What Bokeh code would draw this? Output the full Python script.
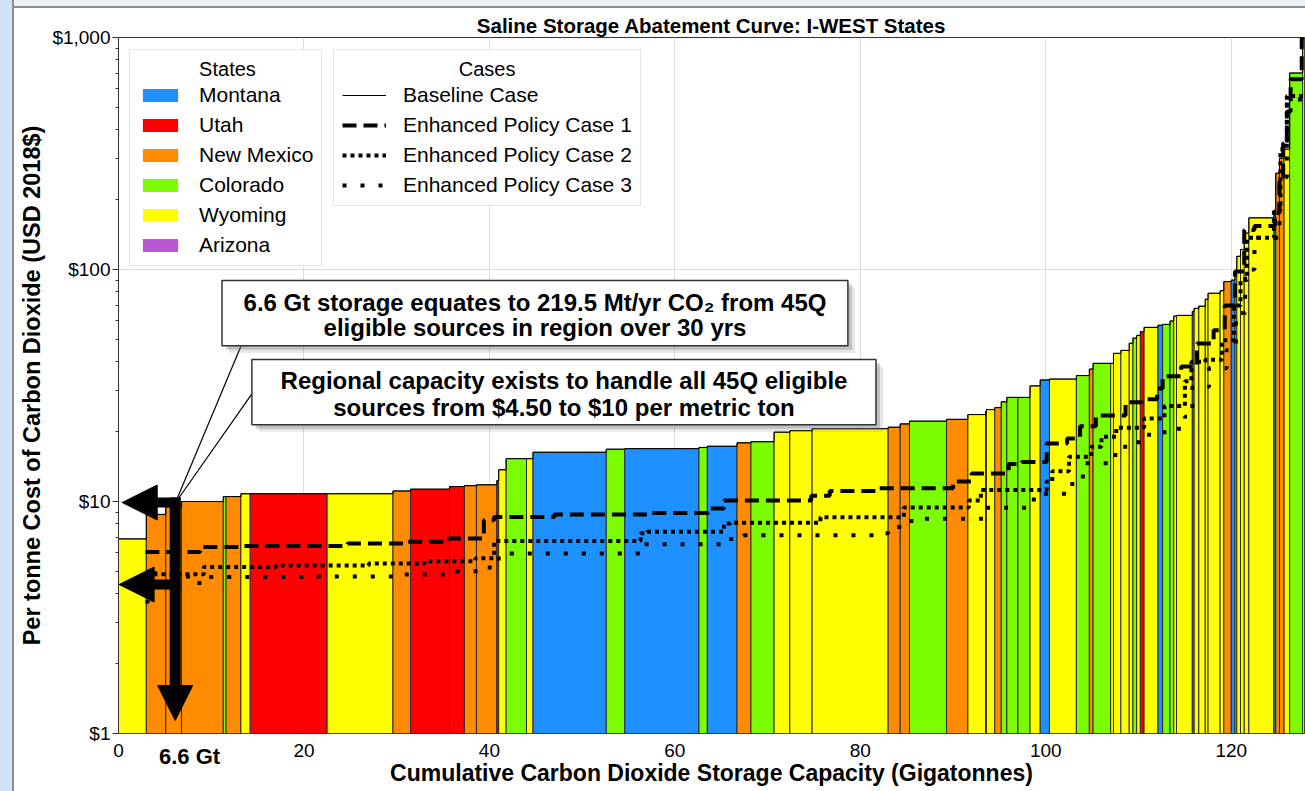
import numpy as np
from bokeh.plotting import figure
from bokeh.models import (Range1d, FixedTicker, NumeralTickFormatter, Legend, LegendItem,
                          Arrow, NormalHead, BoxAnnotation, Label, ColumnDataSource, LinearAxis)
from bokeh.embed import file_html
from bokeh.resources import INLINE

FONT = "Liberation Sans"

# ---------------- data ----------------
STATES = ["Montana", "Utah", "New Mexico", "Colorado", "Wyoming", "Arizona"]
STATE_CODES = ["MT", "UT", "NM", "CO", "WY", "AZ"]
STATE_COLORS = ["#1E90FF", "#FF0000", "#FF8C00", "#7CFC00", "#FFFF00", "#BA55D3"]

# storage capacity of each saline formation (Gt), in cost order
CAPACITY_GT = [3.0, 2.1, 1.7, 4.5, 0.3, 1.6, 1.0, 8.3, 7.1, 1.9, 4.2, 1.6, 1.3, 2.2, 0.2,
               0.8, 2.2, 0.7, 7.9, 2.0, 8.0, 0.9, 3.2, 1.5, 2.5, 1.7, 2.4, 8.2, 1.3, 1.0,
               4.0, 2.3, 1.9, 0.1, 0.9, 0.7, 0.6, 1.2, 1.3, 1.1, 1.0, 2.9, 1.4, 0.4, 1.9,
               0.3, 0.8, 0.9, 0.4, 0.4, 0.4, 0.4, 1.5, 0.5, 0.8, 0.4, 0.3, 1.7, 0.2, 0.5,
               0.7, 0.3, 1.3, 0.4, 0.8, 0.4, 0.2, 0.4, 0.4, 0.5, 2.7, 0.2, 0.4, 0.5, 0.6,
               1.4, 0.2]
# baseline storage cost ($/t CO2, USD 2018)
COST_USD = [6.9, 8.8, 9.5, 10.0, 10.5, 10.5, 10.8, 10.8, 10.8, 11.1, 11.3, 11.6, 11.7, 11.8, 12.3,
            13.7, 15.3, 15.3, 16.3, 16.8, 16.9, 17.1, 17.3, 17.9, 18.1, 19.9, 20.2, 20.6, 20.9, 21.6,
            22.2, 22.6, 23.7, 24.4, 24.9, 25.4, 26.9, 28.1, 28.1, 31.5, 33.4, 33.7, 34.9, 37.2, 39.4,
            39.4, 43.5, 44.8, 48.1, 50.6, 52.0, 54.0, 56.3, 57.5, 58.0, 60.0, 63.0, 63.4, 66.0, 68.0,
            69.5, 74.5, 79.0, 81.0, 88.7, 90.0, 98.0, 114.0, 122.0, 143.5, 167.0, 180.0, 260.0, 302.0, 330.0,
            703.0, 1000.0]
BAR_STATE = ["WY", "NM", "NM", "NM", "CO", "NM", "WY", "UT", "WY", "NM", "UT", "UT", "NM", "NM", "UT",
             "WY", "CO", "WY", "MT", "CO", "MT", "CO", "MT", "NM", "CO", "WY", "WY", "WY", "NM", "NM",
             "CO", "NM", "WY", "MT", "WY", "NM", "CO", "CO", "CO", "WY", "MT", "WY", "CO", "NM", "CO",
             "WY", "WY", "WY", "WY", "CO", "WY", "UT", "WY", "MT", "CO", "CO", "WY", "WY", "MT", "WY",
             "WY", "WY", "WY", "WY", "NM", "MT", "CO", "WY", "WY", "WY", "WY", "MT", "NM", "NM", "WY",
             "CO", "WY"]

CASE1_X = [2.9, 8.8, 13.5, 24.7, 31.1, 35.4, 39.4, 40.5, 47.0, 57.0, 63.6, 65.3, 74.7, 76.7, 82.0,
           90.0, 92.0, 96.0, 97.4, 100.1, 102.3, 103.7, 105.4, 108.6, 110.4, 112.0, 112.6, 114.6,
           116.3, 118.1, 119.3, 120.4, 121.4, 122.5, 124.7, 125.2, 125.6, 126.0, 126.4, 127.6, 127.9]
CASE1_Y = [6.06, 6.37, 6.43, 6.59, 6.70, 6.92, 8.3, 8.58, 8.79, 8.93, 9.33, 10.1, 10.6, 11.1, 11.4,
           12.2, 13.2, 14.5, 14.8, 17.8, 18.7, 21.1, 23.5, 26.8, 27.6, 30.7, 34.7, 38.2,
           48.0, 54.7, 70.0, 98.0, 148.0, 154.0, 175.0, 250.0, 350.0, 480.0, 660.0, 1000.0, 1000.0]

CASE2_X = [2.9, 9.2, 17.0, 27.0, 33.0, 38.5, 40.5, 56.3, 57.0, 65.3, 66.0, 75.7, 84.7, 91.7, 93.0,
           100.1, 100.7, 102.5, 104.9, 106.0, 107.6, 110.6, 112.8, 115.0, 115.7, 117.2, 119.0, 120.3,
           121.0, 121.7, 124.6, 125.3, 126.0, 127.9]
CASE2_Y = [4.86, 5.22, 5.3, 5.4, 5.53, 5.7, 6.75, 7.3, 7.4, 8.03, 8.09, 8.55, 9.42, 10.1, 11.2,
           12.2, 13.5, 15.6, 17.2, 19.0, 20.8, 22.8, 25.8, 33.0, 40.0, 40.8, 49.6, 70.0,
           90.0, 137.0, 180.0, 330.0, 560.0, 560.0]

CASE3_X = [2.9, 3.2, 7.5, 9.2, 20.0, 30.0, 36.0, 39.4, 41.0, 56.5, 65.8, 67.4, 81.8, 83.0, 85.5,
           93.5, 98.3, 99.7, 102.3, 104.0, 107.5, 110.0, 112.8, 115.0, 115.8, 117.6, 119.5, 120.5,
           121.5, 122.5, 125.2, 126.0, 127.9]
CASE3_Y = [3.7, 4.9, 4.45, 4.73, 4.75, 4.85, 5.0, 5.2, 5.97, 6.54, 6.9, 7.16, 7.3, 7.77, 8.43,
           9.4, 10.2, 10.8, 11.9, 14.6, 17.2, 19.4, 20.6, 23.2, 31.2, 37.5, 45.0, 65.0,
           100.0, 137.0, 250.0, 540.0, 540.0]

X_TICKS = [0, 20, 40, 60, 80, 100, 120]
Y_TICKS = [1, 10, 100, 1000]
MARK_GT = 7.66          # position of the "6.6 Gt" label on the axis
MARK_LABEL = "6.6 Gt"

# ---------------- geometry helpers (for annotations only) ----------------
X_MAX = 127.9
FRAME_L, FRAME_R, FRAME_T, FRAME_B = 118, 1304, 37, 733
def px_x(px):
    return (px - FRAME_L) * X_MAX / (FRAME_R - FRAME_L)
def px_y(py):
    return 10 ** ((FRAME_B - py) / ((FRAME_B - FRAME_T) / 3.0))

# ---------------- figure ----------------
p = figure(width=1305, height=791, x_range=Range1d(0, X_MAX), y_range=Range1d(1, 1000),
           y_axis_type="log", output_backend="svg", toolbar_location=None,
           min_border_left=FRAME_L, min_border_right=1305 - FRAME_R, min_border_top=FRAME_T,
           min_border_bottom=791 - FRAME_B)
p.background_fill_color = "white"
p.border_fill_color = "white"
p.border_fill_alpha = 0
p.styles = {"background": ("linear-gradient(to right, #d2e2f6 0px, #d2e2f6 12px, #8c8c8c 12px, "
                           "#8c8c8c 14px, rgba(0,0,0,0) 14px), "
                           "linear-gradient(to bottom, #eef3fa 0px, #eef3fa 6px, #8c8c8c 6px, "
                           "#8c8c8c 8px, #ffffff 8px)")}
p.outline_line_color = "#333333"
p.outline_line_width = 1

p.title.text = "Saline Storage Abatement Curve: I-WEST States"
p.title.align = "center"
p.title.text_font = FONT
p.title.text_font_size = "20.5px"
p.title.text_font_style = "bold"
p.title.text_color = "black"
p.title.standoff = 2

main_x = p.below[0]
main_y = p.left[0]

xt = FixedTicker(ticks=X_TICKS)
minor_y = [m * d for d in (1, 10, 100) for m in range(2, 10)]
yt = FixedTicker(ticks=Y_TICKS, minor_ticks=minor_y)
main_x.ticker = xt
main_y.ticker = yt
p.xgrid.ticker = xt
p.ygrid.ticker = yt
main_y.formatter = NumeralTickFormatter(format="$0,0")

for ax in (main_x, main_y):
    ax.major_label_text_font = FONT
    ax.major_label_text_font_size = "19px"
    ax.major_label_text_color = "black"
    ax.axis_label_text_font = FONT
    ax.axis_label_text_font_style = "bold"
    ax.axis_label_text_color = "black"
    ax.axis_line_color = "#333333"
    ax.major_tick_line_color = "#333333"
    ax.minor_tick_line_color = "#333333"
    ax.major_tick_in = 0
    ax.minor_tick_in = 0

main_x.axis_label = "Cumulative Carbon Dioxide Storage Capacity (Gigatonnes)"
main_x.axis_label_text_font_size = "23px"
main_x.axis_line_color = None          # the frame outline draws the bottom edge
main_x.major_tick_out = 0
main_x.minor_tick_out = 0
main_x.axis_label_standoff = 0

main_y.axis_label = "Per tonne Cost of Carbon Dioxide (USD 2018$)"
main_y.axis_label_text_font_size = "23.5px"
main_y.major_tick_out = 6
main_y.minor_tick_out = 3
main_y.major_label_standoff = 2
main_y.axis_label_standoff = 4

p.xgrid.grid_line_color = "#dcdcdc"
p.ygrid.grid_line_color = "#dcdcdc"

# extra axis (closest to the frame) carrying only the bold "6.6 Gt" mark;
# the main x axis is then pulled back up so its labels sit in the same row
MARK_STANDOFF = 10
mark_axis = LinearAxis(ticker=FixedTicker(ticks=[MARK_GT]),
                       major_label_overrides={MARK_GT: MARK_LABEL},
                       axis_line_color=None, major_tick_line_color=None,
                       minor_tick_line_color=None, major_tick_out=0, minor_tick_out=0,
                       major_label_standoff=MARK_STANDOFF, major_label_text_font=FONT,
                       major_label_text_font_style="bold", major_label_text_font_size="22px",
                       major_label_text_color="black")
p.add_layout(mark_axis, "below")
p.below = [mark_axis, main_x]
main_x.major_label_standoff = -28

# ---------------- bars ----------------
color_of = dict(zip(STATE_CODES, STATE_COLORS))
lefts, rights = [], []
acc = 0.0
for w in CAPACITY_GT:
    lefts.append(acc)
    acc += w
    rights.append(acc)
src = ColumnDataSource(dict(left=lefts, right=rights, top=COST_USD, bottom=[1] * len(COST_USD),
                            color=[color_of[s] for s in BAR_STATE]))
p.quad(left="left", right="right", top="top", bottom="bottom", fill_color="color",
       line_color="#2a2a2a", line_width=1, source=src)

# legend-only renderers for the States legend (a single NaN row: nothing drawn in the plot)
nan = np.array([np.nan])
state_items = []
for name, col in zip(STATES, STATE_COLORS):
    r = p.quad(left=nan, right=nan, top=nan, bottom=nan, fill_color=col, line_color=None)
    state_items.append(LegendItem(label=name, renderers=[r]))

# ---------------- case lines ----------------
r_base = p.step(x=lefts + [rights[-1]], y=COST_USD + [COST_USD[-1]], mode="after",
                line_color="black", line_width=1)
r_c1 = p.step(x=CASE1_X, y=CASE1_Y, mode="after", line_color="black", line_width=4,
              line_dash="14 7")
r_c2 = p.step(x=CASE2_X, y=CASE2_Y, mode="after", line_color="black", line_width=4,
              line_dash="4 4")
r_c3 = p.step(x=CASE3_X, y=CASE3_Y, mode="after", line_color="black", line_width=4,
              line_dash="4 14")

# ---------------- callouts ----------------
p.segment(x0=[px_x(176.7), px_x(178.0)], y0=[px_y(498), px_y(498)],
          x1=[px_x(240.3), px_x(251.4)], y1=[px_y(346), px_y(393.3)],
          line_color="black", line_width=1.2)

head = dict(size=35, fill_color="black", line_color="black", line_width=1)
p.add_layout(Arrow(end=NormalHead(**head), x_start=px_x(174.7), y_start=px_y(497),
                   x_end=px_x(174.7), y_end=px_y(720), line_color="black", line_width=11))
p.add_layout(Arrow(end=NormalHead(**head), x_start=px_x(180), y_start=px_y(502),
                   x_end=px_x(121.7), y_end=px_y(502), line_color="black", line_width=10))
p.add_layout(Arrow(end=NormalHead(**head), x_start=px_x(180), y_start=px_y(584),
                   x_end=px_x(118.6), y_end=px_y(584), line_color="black", line_width=10))

def callout(l, r, t, b, lines, ys, cx):
    for off, a in ((7, 0.18), (4, 0.35)):
        p.add_layout(BoxAnnotation(left=px_x(l + off), right=px_x(r + off), top=px_y(t + off),
                                   bottom=px_y(b + off), fill_color="#777777", fill_alpha=a,
                                   line_color=None))
    p.add_layout(BoxAnnotation(left=px_x(l), right=px_x(r), top=px_y(t), bottom=px_y(b),
                               fill_color="white", fill_alpha=1, line_color="#333333",
                               line_alpha=1, line_width=1.5))
    for txt, y in zip(lines, ys):
        p.add_layout(Label(x=px_x(cx), y=px_y(y), text=txt, text_align="center",
                           text_baseline="middle", text_font=FONT, text_font_style="bold",
                           text_font_size="24px", text_color="black"))

callout(221.5, 847.4, 280, 345.3,
        ["6.6 Gt storage equates to 219.5 Mt/yr CO\u2082 from 45Q",
         "eligible sources in region over 30 yrs"], [301.7, 327.3], 534.5)
callout(251.4, 875.5, 359, 424.3,
        ["Regional capacity exists to handle all 45Q eligible",
         "sources from $4.50 to $10 per metric ton"], [380, 406.7], 563.5)

# ---------------- legends ----------------
NB = "\u00a0"
def style_legend(lg):
    lg.padding = 8
    lg.spacing = 6
    lg.margin = 0
    lg.glyph_width = 44
    lg.glyph_height = 16
    lg.label_standoff = 17
    lg.label_height = 21
    lg.label_text_font = FONT
    lg.label_text_font_size = "21px"
    lg.label_text_color = "black"
    lg.title_text_font = FONT
    lg.title_text_font_size = "20px"
    lg.title_text_font_style = "normal"
    lg.title_text_color = "black"
    lg.title_standoff = 2
    lg.border_line_color = "#cccccc"
    lg.border_line_width = 1
    lg.background_fill_color = "white"
    lg.background_fill_alpha = 1

leg1 = Legend(items=state_items, location=(11, 467), title=NB * 11 + "States")
style_legend(leg1)
leg2 = Legend(items=[LegendItem(label="Baseline Case", renderers=[r_base]),
                     LegendItem(label="Enhanced Policy Case 1", renderers=[r_c1]),
                     LegendItem(label="Enhanced Policy Case 2", renderers=[r_c2]),
                     LegendItem(label="Enhanced Policy Case 3", renderers=[r_c3])],
              location=(215, 527), title=NB * 21 + "Cases")
style_legend(leg2)
p.add_layout(leg1)
p.add_layout(leg2)

open("out.html", "w").write(file_html(p, INLINE))
